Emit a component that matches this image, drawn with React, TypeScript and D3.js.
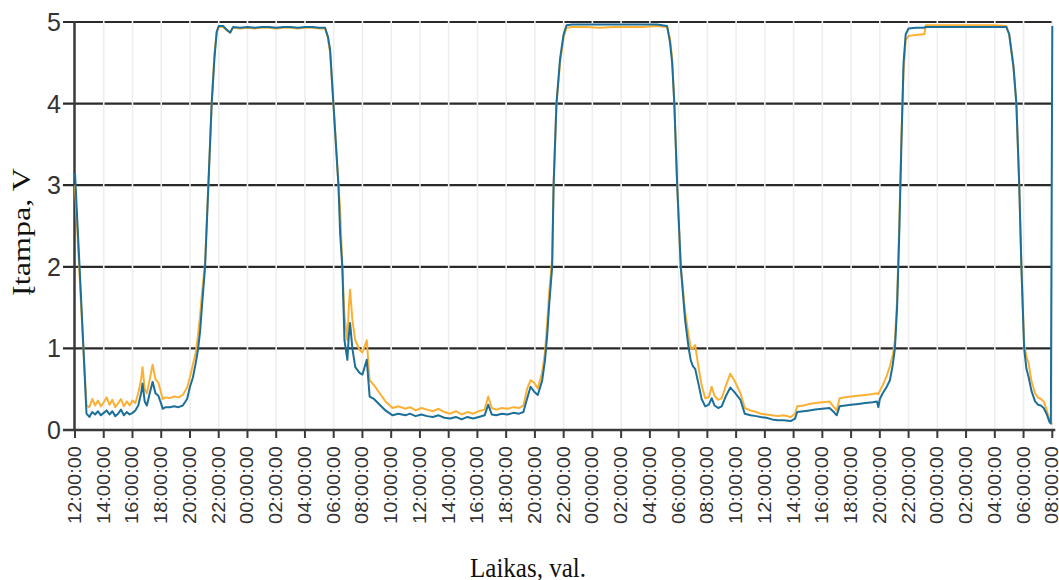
import React from "react";
import * as d3 from "d3";

// hours elapsed since 12:00:00 of the first day
const hours = [
  0.0, 0.4, 0.8, 1.0, 1.2, 1.4, 1.6, 1.8, 2.0, 2.2, 2.4, 2.6, 2.8, 3.0, 3.2, 3.4, 3.6, 3.8, 4.0, 4.2,
  4.4, 4.6, 4.7, 4.85, 5.0, 5.2, 5.4, 5.6, 5.8, 6.0, 6.1, 6.3, 6.6, 6.9, 7.2, 7.5, 7.8, 8.0, 8.2, 8.4,
  8.55, 8.7, 8.85, 9.05, 9.28, 9.51, 9.7, 9.86, 10.0, 10.3, 10.6, 10.8, 11.0, 11.5, 12.0, 12.5, 13.0, 13.5, 14.0, 14.5,
  15.0, 15.5, 16.0, 16.5, 17.0, 17.4, 17.6, 17.75, 17.98, 18.33, 18.45, 18.6, 18.75, 18.95, 19.05, 19.14, 19.3, 19.5, 19.8, 20.0,
  20.3, 20.5, 20.8, 21.2, 21.6, 22.1, 22.5, 23.0, 23.3, 23.7, 24.1, 24.5, 24.9, 25.3, 25.7, 26.1, 26.5, 26.9, 27.3, 27.7,
  28.1, 28.5, 28.75, 29.0, 29.3, 29.7, 30.1, 30.5, 30.9, 31.2, 31.45, 31.7, 31.95, 32.2, 32.5, 32.7, 32.85, 33.0, 33.2, 33.3,
  33.5, 33.75, 34.0, 34.2, 34.6, 35.5, 36.5, 37.5, 38.5, 39.5, 40.5, 41.2, 41.4, 41.55, 41.7, 41.9, 42.15, 42.45, 42.7, 42.85,
  43.0, 43.15, 43.4, 43.6, 43.85, 44.1, 44.3, 44.5, 44.75, 45.0, 45.3, 45.6, 45.9, 46.3, 46.6, 47.0, 47.4, 47.7, 48.1, 48.5,
  48.9, 49.3, 49.8, 50.1, 50.25, 50.7, 51.1, 51.5, 52.0, 52.5, 52.8, 53.0, 53.2, 53.6, 54.0, 54.5, 55.0, 55.5, 55.8, 55.9,
  56.0, 56.2, 56.45, 56.7, 56.9, 57.05, 57.2, 57.35, 57.5, 57.65, 57.8, 58.0, 58.5, 59.0, 59.1, 59.2, 60.0, 61.0, 62.0, 63.0,
  64.0, 64.8, 65.0, 65.3, 65.5, 65.7, 65.85, 66.04, 66.2, 66.35, 66.55, 66.8, 67.0, 67.2, 67.4, 67.6, 67.8, 67.9, 68.0,
];

const orangeVolts = [
  3.0, 1.6, 0.3, 0.28, 0.38, 0.3, 0.36, 0.29, 0.34, 0.4, 0.31, 0.37, 0.28, 0.33, 0.38, 0.29, 0.35, 0.3, 0.36, 0.33,
  0.45, 0.62, 0.77, 0.5, 0.45, 0.62, 0.8, 0.62, 0.58, 0.45, 0.38, 0.4, 0.39, 0.41, 0.4, 0.43, 0.52, 0.65, 0.8, 0.95,
  1.15, 1.4, 1.7, 2.05, 3.0, 4.0, 4.6, 4.88, 4.94, 4.94, 4.89, 4.87, 4.93, 4.92, 4.93, 4.92, 4.93, 4.93, 4.92, 4.93,
  4.93, 4.92, 4.93, 4.93, 4.92, 4.92, 4.8, 4.62, 4.0, 3.0, 2.7, 2.0, 1.4, 1.1, 1.5, 1.72, 1.35, 1.1, 0.98, 0.95,
  1.1, 0.61, 0.55, 0.45, 0.35, 0.27, 0.29, 0.26, 0.28, 0.24, 0.27, 0.25, 0.23, 0.26, 0.22, 0.2, 0.23, 0.19, 0.22, 0.2,
  0.23, 0.25, 0.41, 0.27, 0.25, 0.27, 0.26, 0.28, 0.27, 0.3, 0.5, 0.61, 0.58, 0.51, 0.7, 0.95, 1.3, 1.7, 2.1, 3.0,
  4.0, 4.5, 4.82, 4.93, 4.94, 4.94, 4.93, 4.94, 4.94, 4.94, 4.95, 4.94, 4.8, 4.55, 4.0, 3.0, 2.0, 1.45, 1.15, 1.0,
  1.0, 1.04, 0.75, 0.55, 0.39, 0.4, 0.53, 0.42, 0.37, 0.39, 0.55, 0.69, 0.6, 0.45, 0.27, 0.24, 0.22, 0.2, 0.19, 0.18,
  0.17, 0.18, 0.16, 0.2, 0.29, 0.3, 0.32, 0.33, 0.34, 0.35, 0.28, 0.24, 0.39, 0.4, 0.41, 0.42, 0.43, 0.44, 0.45, 0.44,
  0.48, 0.55, 0.65, 0.78, 0.92, 1.1, 1.6, 2.5, 3.6, 4.4, 4.78, 4.83, 4.84, 4.85, 4.85, 4.96, 4.96, 4.96, 4.96, 4.96,
  4.96, 4.95, 4.85, 4.45, 4.0, 3.0, 2.0, 1.05, 0.9, 0.82, 0.6, 0.45, 0.4, 0.38, 0.35, 0.25, 0.12, 0.08, 0.08,
];

const blueVolts = [
  3.15, 1.7, 0.2, 0.16, 0.22, 0.19, 0.23, 0.18, 0.21, 0.24, 0.19, 0.23, 0.17, 0.2, 0.25, 0.18, 0.22, 0.19, 0.21, 0.24,
  0.3, 0.45, 0.57, 0.35, 0.3, 0.45, 0.59, 0.45, 0.42, 0.32, 0.26, 0.28, 0.28, 0.29, 0.28, 0.3, 0.38, 0.53, 0.64, 0.82,
  0.98, 1.2, 1.55, 2.0, 3.0, 4.0, 4.55, 4.88, 4.95, 4.95, 4.9, 4.87, 4.94, 4.93, 4.94, 4.93, 4.94, 4.94, 4.93, 4.94,
  4.94, 4.93, 4.94, 4.94, 4.93, 4.93, 4.82, 4.66, 4.0, 3.0, 2.4, 2.0, 1.1, 0.86, 1.15, 1.31, 1.0, 0.77, 0.7, 0.68,
  0.86, 0.41, 0.38, 0.31, 0.24, 0.18, 0.2, 0.18, 0.2, 0.17, 0.19, 0.17, 0.16, 0.18, 0.15, 0.14, 0.16, 0.13, 0.16, 0.14,
  0.16, 0.18, 0.31, 0.19, 0.18, 0.2, 0.19, 0.21, 0.2, 0.22, 0.38, 0.53, 0.47, 0.43, 0.6, 0.85, 1.15, 1.55, 2.0, 3.0,
  4.0, 4.55, 4.85, 4.96, 4.97, 4.97, 4.97, 4.97, 4.97, 4.97, 4.97, 4.95, 4.75, 4.5, 4.0, 3.0, 2.0, 1.35, 1.0, 0.85,
  0.78, 0.75, 0.55, 0.38, 0.29, 0.31, 0.39, 0.3, 0.27, 0.29, 0.42, 0.52, 0.46, 0.37, 0.2, 0.18, 0.17, 0.16, 0.15, 0.13,
  0.12, 0.12, 0.11, 0.14, 0.22, 0.23, 0.24, 0.25, 0.26, 0.27, 0.22, 0.18, 0.29, 0.3, 0.31, 0.32, 0.33, 0.34, 0.35, 0.28,
  0.38, 0.45, 0.52, 0.61, 0.8, 1.0, 1.5, 2.4, 3.5, 4.5, 4.85, 4.92, 4.93, 4.93, 4.93, 4.94, 4.94, 4.94, 4.94, 4.94,
  4.94, 4.94, 4.85, 4.45, 4.0, 3.0, 2.0, 1.0, 0.75, 0.65, 0.48, 0.35, 0.31, 0.3, 0.27, 0.2, 0.1, 0.08, 4.95,
];

const yTickValues = [0, 1, 2, 3, 4, 5];
const xTickHours = d3.range(0, 69, 2);
const yAxisTitle = "Įtampa, V";
const xAxisTitle = "Laikas, val.";

const W = 1059;
const H = 580;
const left = 75;
const right = 1052.3;
const top = 22;
const bottom = 430;

export default function App() {
  const x = d3.scaleLinear().domain([0, 68]).range([left, right]);
  const y = d3.scaleLinear().domain([0, 5]).range([bottom, top]);

  const orangeData = hours.map((h, i) => [h, orangeVolts[i]] as [number, number]);
  const blueData = hours.map((h, i) => [h, blueVolts[i]] as [number, number]);
  const line = d3
    .line<[number, number]>()
    .x((d) => x(d[0]))
    .y((d) => y(d[1]));

  const fmt = (h: number) => {
    const hh = (12 + h) % 24;
    return `${hh < 10 ? "0" : ""}${hh}:00:00`;
  };

  return (
    <svg
      width={W}
      height={H}
      style={{ position: "absolute", left: 0, top: 0, background: "#fff" }}
    >
      {/* horizontal grid lines */}
      {yTickValues.map((v) => (
        <line
          key={"h" + v}
          x1={63}
          x2={right}
          y1={y(v)}
          y2={y(v)}
          stroke="#2a2a2a"
          strokeWidth={2.2}
        />
      ))}
      {/* vertical light grid lines */}
      {xTickHours.slice(1).map((h) => (
        <line
          key={"v" + h}
          x1={x(h)}
          x2={x(h)}
          y1={top - 1}
          y2={bottom - 1.2}
          stroke="#eeeeee"
          strokeWidth={1.6}
        />
      ))}
      {/* axes */}
      <line x1={left - 0.5} x2={left - 0.5} y1={top - 1} y2={bottom} stroke="#3a3a3a" strokeWidth={2.5} />
      <line x1={63} x2={right + 3} y1={bottom} y2={bottom} stroke="#3a3a3a" strokeWidth={2.5} />
      {xTickHours.map((h) => (
        <line key={"xt" + h} x1={x(h)} x2={x(h)} y1={bottom} y2={bottom + 8} stroke="#3a3a3a" strokeWidth={2} />
      ))}
      {/* y tick labels */}
      {yTickValues.map((v) => (
        <text
          key={"yl" + v}
          x={61}
          y={y(v)}
          textAnchor="end"
          dominantBaseline="central"
          fontFamily="Liberation Sans, Arial, sans-serif"
          fontSize={25}
          fill="#333"
        >
          {v}
        </text>
      ))}
      {/* x tick labels */}
      {xTickHours.map((h) => (
        <text
          key={"xl" + h}
          transform={`translate(${x(h)},${bottom + 16}) rotate(-90)`}
          textAnchor="end"
          dominantBaseline="central"
          fontFamily="Liberation Sans, Arial, sans-serif"
          fontSize={18}
          textLength={78}
          lengthAdjust="spacingAndGlyphs"
          fill="#333"
        >
          {fmt(h)}
        </text>
      ))}
      {/* series */}
      <path d={line(orangeData) || ""} fill="none" stroke="#FBB034" strokeWidth={2} strokeLinejoin="round" />
      <path d={line(blueData) || ""} fill="none" stroke="#1C6F99" strokeWidth={2} strokeLinejoin="round" />
      {/* axis titles */}
      <text
        transform={`translate(30,232) rotate(-90)`}
        textAnchor="middle"
        fontFamily="Liberation Serif, Times New Roman, serif"
        fontSize={25}
        textLength={128}
        lengthAdjust="spacingAndGlyphs"
        fill="#111"
      >
        {yAxisTitle}
      </text>
      <text
        x={528}
        y={577}
        textAnchor="middle"
        fontFamily="Liberation Serif, Times New Roman, serif"
        fontSize={28}
        textLength={116}
        lengthAdjust="spacingAndGlyphs"
        fill="#111"
      >
        {xAxisTitle}
      </text>
    </svg>
  );
}
